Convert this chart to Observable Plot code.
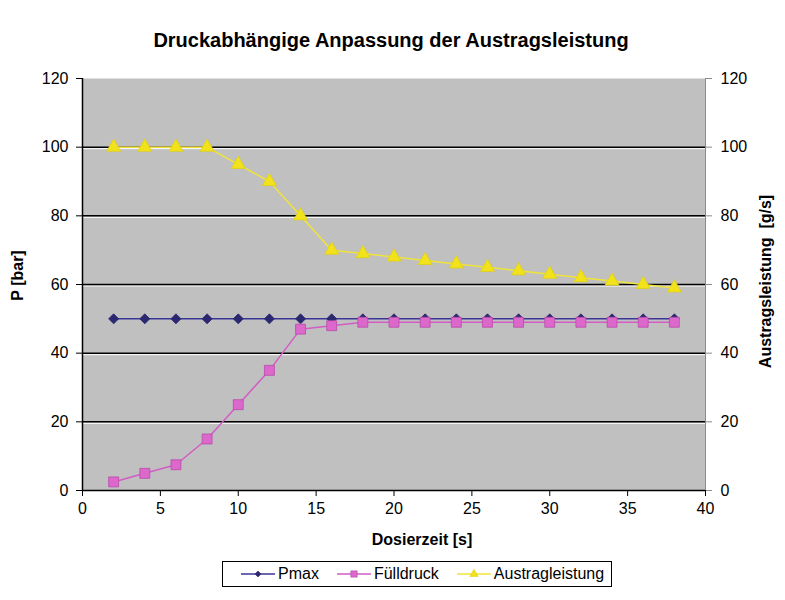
<!DOCTYPE html>
<html>
<head>
<meta charset="utf-8">
<script src="https://cdn.jsdelivr.net/npm/d3@7"></script>
<script src="https://cdn.jsdelivr.net/npm/@observablehq/plot@0.6"></script>
<style>
  body { margin: 0; background: #fff; }
  #chart { position: relative; width: 785px; height: 600px; font-family: "Liberation Sans", Arial, sans-serif; }
  #legend {
    position: absolute; left: 222px; top: 561px; width: 390px; height: 26px;
    border: 1px solid #000; background: #fff; box-sizing: border-box;
    display: flex; align-items: center; font-size: 16px; color: #000;
  }
  #legend .item { display: flex; align-items: center; margin-left: 18px; }
  #legend svg { margin-right: 3px; }
</style>
</head>
<body>
<div id="chart"></div>
<script>
// Dosierzeit [s]
const zeit = [2, 4, 6, 8, 10, 12, 14, 16, 18, 20, 22, 24, 26, 28, 30, 32, 34, 36, 38];
// P [bar]
const pmax = [50, 50, 50, 50, 50, 50, 50, 50, 50, 50, 50, 50, 50, 50, 50, 50, 50, 50, 50];
const fuelldruck = [2.5, 5, 7.5, 15, 25, 35, 47, 48, 49, 49, 49, 49, 49, 49, 49, 49, 49, 49, 49];
// Austragsleistung [g/s]
const austrag = [100, 100, 100, 100, 95, 90, 80, 70, 69, 68, 67, 66, 65, 64, 63, 62, 61, 60, 59];

const xTicks = [0, 5, 10, 15, 20, 25, 30, 35, 40];
const yTicks = [0, 20, 40, 60, 80, 100, 120];
const gridTicks = [20, 40, 60, 80, 100];

const series = [
  {name: "Pmax", values: pmax, line: "#3b3696", fill: "#2c2870", stroke: "#2c2870", symbol: "square", r: 4, rotate: 45},
  {name: "Fülldruck", values: fuelldruck, line: "#d25cc4", fill: "#dc68cc", stroke: "#b94aa9", symbol: "square", r: 5.6, rotate: 0},
  {name: "Austragleistung", values: austrag, line: "#f0e33a", fill: "#f2e21c", stroke: "#e0d010", symbol: "triangle", r: 5.2, rotate: 0}
];

const rows = series.flatMap(s => zeit.map((t, i) => ({t, v: s.values[i], name: s.name})));

const seriesMarks = series.flatMap(s => {
  const data = rows.filter(d => d.name === s.name);
  return [
    Plot.line(data, {x: "t", y: "v", stroke: s.line, strokeWidth: 1.5}),
    Plot.dot(data, {x: "t", y: "v", symbol: s.symbol, r: s.r, rotate: s.rotate, fill: s.fill, stroke: s.stroke, strokeWidth: 0.8})
  ];
});

const plot = Plot.plot({
  width: 785,
  height: 600,
  marginLeft: 82,
  marginRight: 80,
  marginTop: 78,
  marginBottom: 110,
  x: {domain: [0, 40]},
  y: {domain: [0, 120]},
  style: {fontFamily: "'Liberation Sans', Arial, sans-serif", fontSize: "16px", background: "white", color: "black"},
  marks: [
    Plot.frame({fill: "#c0c0c0", stroke: null}),
    Plot.ruleY(gridTicks, {stroke: "white", strokeWidth: 1, dy: 1.5}),
    Plot.ruleY(gridTicks, {stroke: "black", strokeWidth: 1.5}),
    Plot.ruleX([40], {stroke: "#8a8a8a", strokeWidth: 1}),
    Plot.axisX({ticks: xTicks, tickSize: 6, tickPadding: 6, label: null, fontSize: 16, tickFormat: d => String(d)}),
    Plot.axisY({anchor: "left", ticks: yTicks, tickSize: 6, tickPadding: 8, label: null, fontSize: 16, tickFormat: d => String(d)}),
    Plot.axisY({anchor: "right", ticks: yTicks, tickSize: 6, tickPadding: 9, label: null, fontSize: 16, stroke: "#8a8a8a", tickFormat: d => String(d)}),
    Plot.ruleX([0], {stroke: "black", strokeWidth: 1.5}),
    Plot.ruleY([0], {stroke: "black", strokeWidth: 1.5}),
    ...seriesMarks,
    Plot.text(["Druckabhängige Anpassung der Austragsleistung"], {frameAnchor: "top", dx: -3, dy: -46, fontSize: 20, fontWeight: "bold", letterSpacing: "-0.3px"}),
    Plot.text(["Dosierzeit [s]"], {frameAnchor: "bottom", dx: 28, dy: 54, fontSize: 16, fontWeight: "bold"}),
    Plot.text(["P [bar]"], {frameAnchor: "left", dx: -65, dy: -9, rotate: -90, textAnchor: "middle", fontSize: 16, fontWeight: "bold"}),
    Plot.text(["Austragsleistung  [g/s]"], {frameAnchor: "right", dx: 60, dy: -3, rotate: -90, textAnchor: "middle", fontSize: 16, fontWeight: "bold"})
  ]
});

const chart = document.getElementById("chart");
chart.appendChild(plot);

// Legend
const legend = document.createElement("div");
legend.id = "legend";
for (const s of series) {
  const item = document.createElement("div");
  item.className = "item";
  const sw = d3.create("svg").attr("width", 34).attr("height", 14);
  sw.append("line").attr("x1", 0).attr("x2", 34).attr("y1", 7).attr("y2", 7).attr("stroke", s.line).attr("stroke-width", 1.5);
  const symbol = s.symbol === "triangle" ? d3.symbolTriangle : d3.symbolSquare;
  const size = s.name === "Pmax" ? 18 : s.name === "Fülldruck" ? 40 : 30;
  sw.append("path")
    .attr("d", d3.symbol(symbol, size)())
    .attr("transform", `translate(17,7) rotate(${s.rotate})`)
    .attr("fill", s.fill).attr("stroke", s.stroke).attr("stroke-width", 0.6);
  item.appendChild(sw.node());
  const label = document.createElement("span");
  label.textContent = s.name;
  item.appendChild(label);
  legend.appendChild(item);
}
chart.appendChild(legend);
</script>
</body>
</html>
